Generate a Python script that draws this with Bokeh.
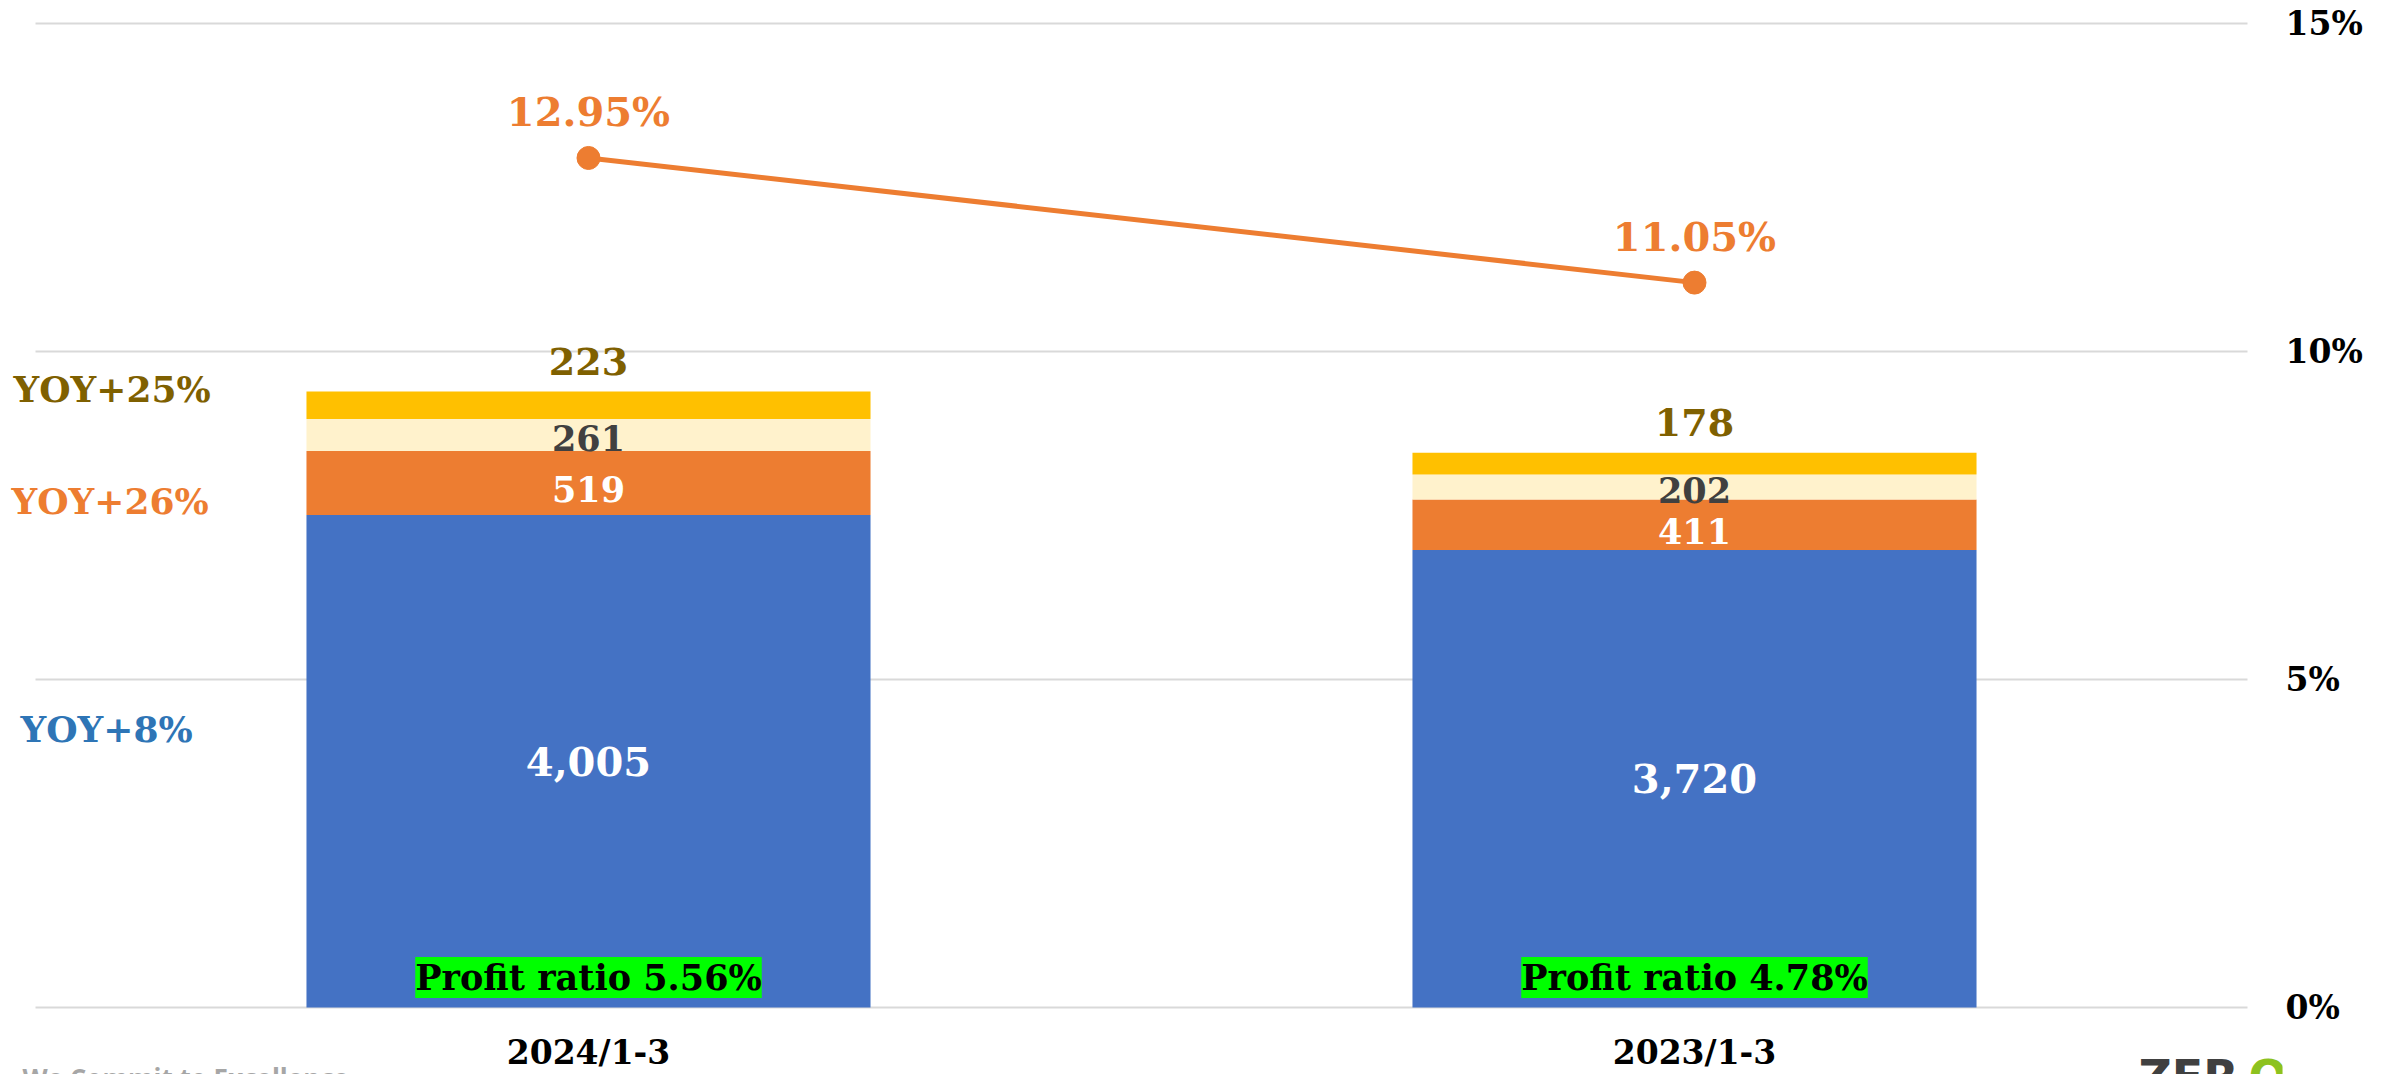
from bokeh.plotting import figure
from bokeh.models import (FactorRange, Range1d, FixedTicker, PrintfTickFormatter,
                          ColumnDataSource, LabelSet, Label, Grid)
from bokeh.core.properties import value
from bokeh.embed import file_html
from bokeh.resources import INLINE

# ---- data ----
periods = ["2024/1-3", "2023/1-3"]
core_rev = [4005, 3720]        # blue segment
seg_orange = [519, 411]        # orange segment
seg_light = [261, 202]         # light segment
seg_yellow = [223, 178]        # yellow segment
margin_pct = [12.95, 11.05]    # line (right axis)
profit_ratio = [5.56, 4.78]
yoy_labels = ["YOY+25%", "YOY+26%", "YOY+8%"]
pct_ticks = [0, 5, 10, 15]
val_max = 8000                 # hidden left scale for the bars (matches 15%)

FONT = "DejaVu Serif"
BLUE, ORANGE, LIGHT, YELLOW = "#4472C4", "#ED7D31", "#FFF2CC", "#FFC000"

# ---- layout (pixels) ----
W, H = 2389, 1074
TOP_GRID, ZERO_Y = 23, 1007          # canvas y of 15% and 0% lines
CAT_W = 1106                          # px per category
LEFT_PAD = 35                         # px before first category
FRAME_R = LEFT_PAD + 2 * CAT_W + LEFT_PAD

px_per_pct = (ZERO_Y - TOP_GRID) / 15.0
pct_hi = 15 + TOP_GRID / px_per_pct
pct_lo = -(H - ZERO_Y) / px_per_pct
val_per_pct = val_max / 15.0

p = figure(x_range=FactorRange(*periods, range_padding=LEFT_PAD / CAT_W,
                               range_padding_units="absolute"),
           y_range=Range1d(pct_lo, pct_hi),
           width=W, height=H, output_backend="svg", toolbar_location=None,
           y_axis_location="right", x_axis_location=None,
           min_border_left=0, min_border_right=W - FRAME_R, min_border_top=0, min_border_bottom=0)
p.extra_y_ranges = {"val": Range1d(pct_lo * val_per_pct, pct_hi * val_per_pct)}
p.outline_line_color = None
p.border_fill_color = "white"

# grid
p.xgrid.visible = False
g = p.ygrid[0]
g.ticker = FixedTicker(ticks=pct_ticks)
g.grid_line_color = "#D9D9D9"
g.grid_line_width = 2
if "cross_bounds" in Grid.properties():
    g.cross_bounds = (0, len(periods))

# right axis
ax = p.yaxis[0]
ax.ticker = FixedTicker(ticks=pct_ticks)
ax.formatter = PrintfTickFormatter(format="%d%%")
ax.axis_line_color = None
ax.major_tick_line_color = None
ax.minor_tick_line_color = None
ax.major_tick_in = 0
ax.major_tick_out = 0
ax.major_label_standoff = 3
ax.major_label_text_font = FONT
ax.major_label_text_font_style = "bold"
ax.major_label_text_font_size = "33px"
ax.major_label_text_color = "black"

# data source
src = ColumnDataSource(dict(
    period=periods,
    core=core_rev, orange=seg_orange, light=seg_light, yellow=seg_yellow,
    core_mid=[c / 2 for c in core_rev],
    orange_mid=[c + o / 2 for c, o in zip(core_rev, seg_orange)],
    light_mid=[c + o + l / 2 for c, o, l in zip(core_rev, seg_orange, seg_light)],
    total=[c + o + l + y for c, o, l, y in zip(core_rev, seg_orange, seg_light, seg_yellow)],
    core_txt=[f"{v:,}" for v in core_rev],
    orange_txt=[f"{v:,}" for v in seg_orange],
    light_txt=[f"{v:,}" for v in seg_light],
    yellow_txt=[f"{v:,}" for v in seg_yellow],
    zero=[0, 0],
    profit_txt=[f"Profit ratio {v:.2f}%" for v in profit_ratio],
    pct=margin_pct,
    pct_txt=[f"{v:.2f}%" for v in margin_pct],
))

p.vbar_stack(["core", "orange", "light", "yellow"], x="period", width=0.51,
             color=[BLUE, ORANGE, LIGHT, YELLOW], line_width=0,
             source=src, y_range_name="val")

# line
p.line(x="period", y="pct", source=src, line_color=ORANGE, line_width=5)
p.scatter(x="period", y="pct", source=src, size=23, fill_color=ORANGE, line_color=ORANGE)

def lset(y, text, color, size, yoff=0, rng="val", **kw):
    p.add_layout(LabelSet(x="period", y=y, text=text, source=src, y_range_name=rng,
                          text_align="center", text_baseline="middle",
                          text_font=value(FONT), text_font_style="bold",
                          text_font_size=size, text_color=color, y_offset=yoff, **kw))

lset("core_mid", "core_txt", "white", "40px", 0)
lset("orange_mid", "orange_txt", "white", "35px", -6)
lset("light_mid", "light_txt", "#404040", "35px", -3)
lset("total", "yellow_txt", "#7F6000", "38px", 30)
lset("pct", "pct_txt", ORANGE, "40px", 46, rng="default")
lset("zero", "profit_txt", "black", "35px", 30, rng="default", background_fill_color="#00FF00")
# category labels under the bars
lset("zero", "period", "black", "33px", -45, rng="default")

# YOY annotations on the left (frame-relative screen coordinates, y up from bottom)
yoy_colors = ["#7F6000", ORANGE, "#2E75B6"]
yoy_x = [13, 11, 20]
yoy_y = [H - 388, H - 500, H - 728]
for t, c, x, y in zip(yoy_labels, yoy_colors, yoy_x, yoy_y):
    p.add_layout(Label(x=x, y=y, x_units="screen", y_units="screen", text=t,
                       text_color=c, text_font=FONT, text_font_style="bold",
                       text_font_size="36px", text_align="left", text_baseline="middle"))

# footer texts (partly cut off at the bottom edge, as in the original)
p.add_layout(Label(x=22, y=15, x_units="screen", y_units="screen", text="We Commit to Excellence",
                   text_color="#A6A6A6", text_font="Open Sans", text_font_style="bold",
                   text_font_size="26px", text_align="left", text_baseline="top"))
for t, c, x in [("ZER", "#404040", 2138), ("O", "#8DC21F", 2248), ("NE", "#404040", 2295)]:
    p.add_layout(Label(x=x, y=25, x_units="screen", y_units="screen", text=t,
                       text_color=c, text_font="DejaVu Sans", text_font_style="bold",
                       text_font_size="46px", text_align="left", text_baseline="top"))

open("out.html", "w").write(file_html(p, INLINE))
